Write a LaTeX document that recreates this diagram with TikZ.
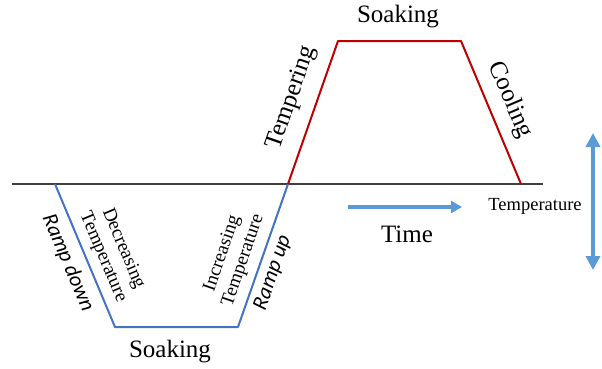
\documentclass[tikz,border=0pt]{standalone}
\usepackage{fontspec}
\setmainfont{Liberation Serif}
\newfontfamily\rampfont{Carlito}
\usetikzlibrary{arrows.meta}
\definecolor{lineblue}{RGB}{68,114,196}
\definecolor{linered}{RGB}{192,0,0}
\definecolor{arrowblue}{RGB}{91,155,213}
\tikzset{
  big/.style={font=\fontsize{25}{27}\selectfont, inner sep=0pt},
  mid/.style={font=\fontsize{19}{22}\selectfont, inner sep=0pt, align=center},
  ramp/.style={font=\rampfont\itshape\fontsize{21.5}{23}\selectfont, inner sep=0pt},
  bigarrow/.style={arrowblue, line width=3.5pt}
}
\begin{document}
\begin{tikzpicture}[x=1pt, y=-1pt]
\useasboundingbox (0,0) rectangle (602,368);
% corners of the two trapezoids
\coordinate (A1) at (12,184);
\coordinate (A2) at (543,184);
\coordinate (B1) at (55,184);
\coordinate (B2) at (115,327);
\coordinate (B3) at (238,327);
\coordinate (B4) at (288,184);
\coordinate (R1) at (338,41);
\coordinate (R2) at (461,41);
\coordinate (R3) at (521,184);

\draw[line width=1.3pt, black!75] (A1) -- (A2);
\draw[lineblue, line width=2pt, line join=round] (B1) -- (B2) -- (B3) -- (B4);
\draw[linered, line width=2pt, line join=round] (B4) -- (R1) -- (R2) -- (R3);

\node[big] (soaktop) at (398,17) {Soaking};
\node[big, rotate=70.7] (temper) at (292,98) {Tempering};
\node[big, rotate=-67] (cool) at (510,100) {Cooling};
\node[big] (soakbot) at (170,352) {Soaking};
\node[ramp, rotate=-67] (rdown) at (68,263) {Ramp down};
\node[mid, rotate=-67] (decr) at (113,253) {Decreasing\\Temperature};
\node[mid, rotate=71] (incr) at (233,257) {Increasing\\Temperature};
\node[ramp, rotate=71] (rup) at (273,273) {Ramp up};

% axes arrows
\coordinate (T1) at (348,207);
\coordinate (T2) at (462,207);
\draw[bigarrow, -{Triangle[length=11pt, width=12pt]}] (T1) -- (T2);
\node[big] (time) at (407,234) {Time};
\node[mid, font=\fontsize{18.5}{18.5}\selectfont] (temp) at (535,206) {Temperature};
\coordinate (V1) at (593,133);
\coordinate (V2) at (593,270);
\draw[bigarrow, {Triangle[length=14pt, width=14pt]}-{Triangle[length=14pt, width=14pt]}] (V1) -- (V2);
\end{tikzpicture}
\end{document}
